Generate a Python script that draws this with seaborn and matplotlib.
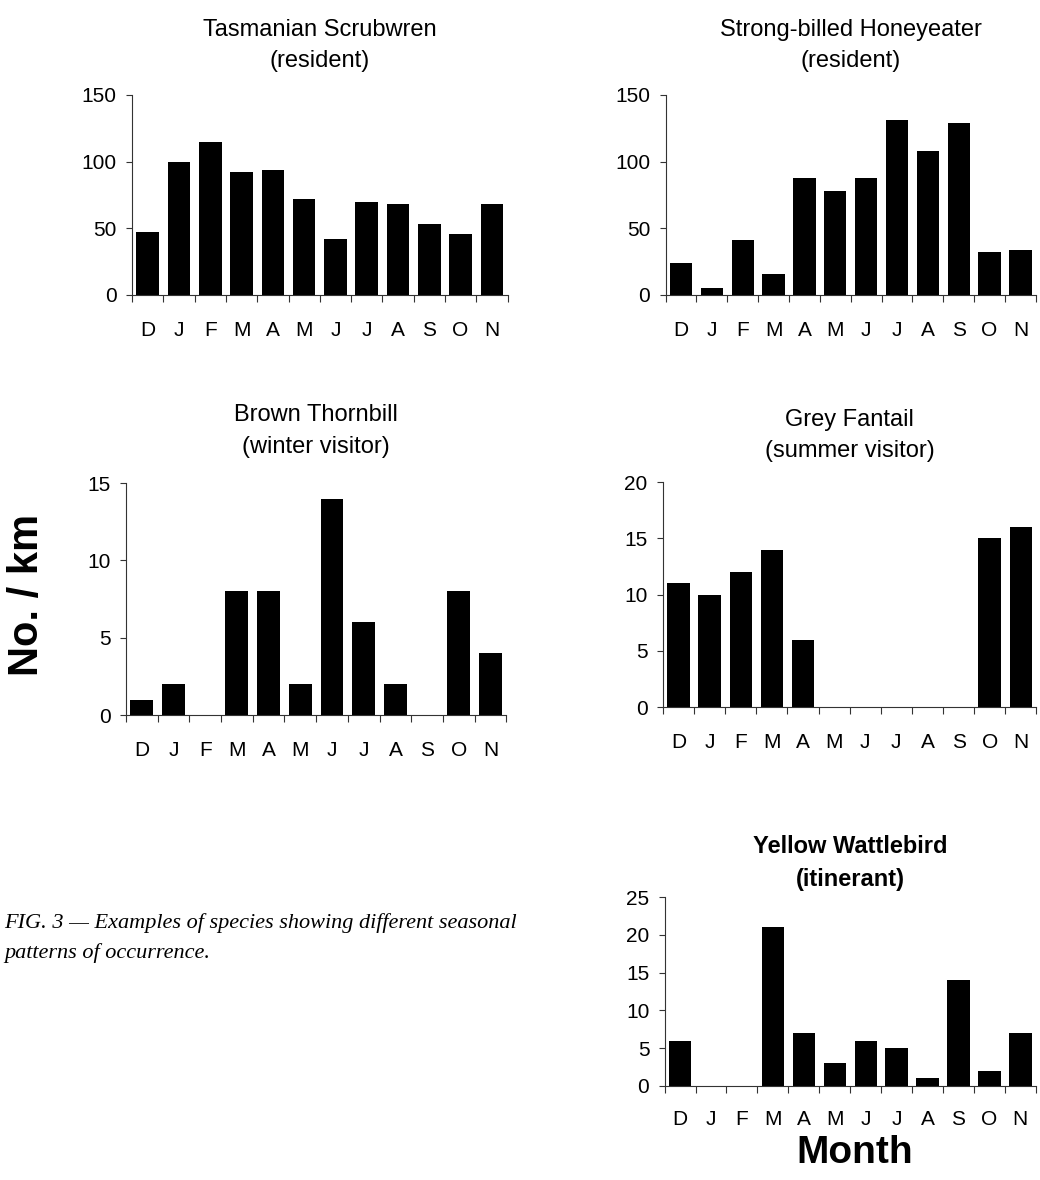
import numpy as np
import pandas as pd
import matplotlib
matplotlib.use('Agg')
import matplotlib.pyplot as plt
import seaborn as sns

# Месяцы (декабрь - ноябрь)
months = ['D', 'J', 'F', 'M', 'A', 'M', 'J', 'J', 'A', 'S', 'O', 'N']

# Значения (No. / km)
scrubwren = [47, 100, 115, 92, 94, 72, 42, 70, 68, 53, 46, 68]
honeyeater = [24, 5, 41, 16, 88, 78, 88, 131, 108, 129, 32, 34]
thornbill = [1, 2, 0, 8, 8, 2, 14, 6, 2, 0, 8, 4]
fantail = [11, 10, 12, 14, 6, 0, 0, 0, 0, 0, 15, 16]
wattlebird = [6, 0, 0, 21, 7, 3, 6, 5, 1, 14, 2, 7]

titles = [
    'Tasmanian Scrubwren\n(resident)',
    'Strong-billed Honeyeater\n(resident)',
    'Brown Thornbill\n(winter visitor)',
    'Grey Fantail\n(summer visitor)',
    'Yellow Wattlebird\n(itinerant)',
]
y_max = [150, 150, 15, 20, 25]
y_step = [50, 50, 5, 5, 5]
series = [scrubwren, honeyeater, thornbill, fantail, wattlebird]

sns.set_style('ticks')
plt.rcParams['font.family'] = ['Liberation Sans', 'DejaVu Sans']
plt.rcParams['text.color'] = 'black'
plt.rcParams['xtick.labelcolor'] = 'black'
plt.rcParams['ytick.labelcolor'] = 'black'

fig = plt.figure(figsize=(10.4, 11.8), dpi=100)

# Положение панелей на рисунке
rects = [
    [0.127, 0.750, 0.361, 0.1695],
    [0.640, 0.750, 0.356, 0.1695],
    [0.121, 0.394, 0.366, 0.1966],
    [0.6375, 0.4008, 0.359, 0.1907],
    [0.639, 0.0797, 0.357, 0.160],
]
title_pads = [20, 20, 22, 18, 8]
label_pads = [19, 19, 19, 19, 17]

for i in range(5):
    ax = fig.add_axes(rects[i])
    df = pd.DataFrame({'idx': range(12), 'value': series[i]})
    sns.barplot(data=df, x='idx', y='value', color='black', saturation=1,
                width=0.72, ax=ax, linewidth=0)
    ax.set_xlim(-0.5, 11.5)
    ax.set_ylim(0, y_max[i])
    ax.set_yticks(np.arange(0, y_max[i] + 1, y_step[i]))
    ax.set_xticks(range(12))
    ax.set_xticklabels(months)
    ax.set_xticks(np.arange(-0.5, 12, 1), minor=True)
    ax.tick_params(axis='x', which='major', length=0, pad=label_pads[i], labelsize=15)
    ax.tick_params(axis='x', which='minor', length=5, width=0.8, direction='out', color='#333333')
    ax.tick_params(axis='y', length=4, width=0.8, pad=7, labelsize=15, color='#333333')
    ax.set_xlabel('')
    ax.set_ylabel('')
    for s in ['left', 'bottom']:
        ax.spines[s].set_linewidth(0.8)
        ax.spines[s].set_color('#333333')
    sns.despine(ax=ax)
    ax.set_title(titles[i], fontsize=17, linespacing=1.55, pad=title_pads[i],
                 fontweight='bold' if i == 4 else 'normal', color='black')

# Общие подписи осей
fig.text(0.026, 1 - 595 / 1180, 'No. / km', rotation=90, ha='center', va='center',
         fontsize=30, fontweight='bold')
fig.text(855 / 1040, 1 - 1163 / 1180, 'Month', ha='center', va='baseline',
         fontsize=28, fontweight='bold')

# Подпись к рисунку
fig.text(0.004, 1 - 923 / 1180, 'FIG. 3 \u2014 Examples of species showing different seasonal',
         ha='left', va='center', fontsize=16, style='italic', family='Liberation Serif')
fig.text(0.004, 1 - 953 / 1180, 'patterns of occurrence.',
         ha='left', va='center', fontsize=16, style='italic', family='Liberation Serif')

plt.savefig('out.png', dpi=100)
